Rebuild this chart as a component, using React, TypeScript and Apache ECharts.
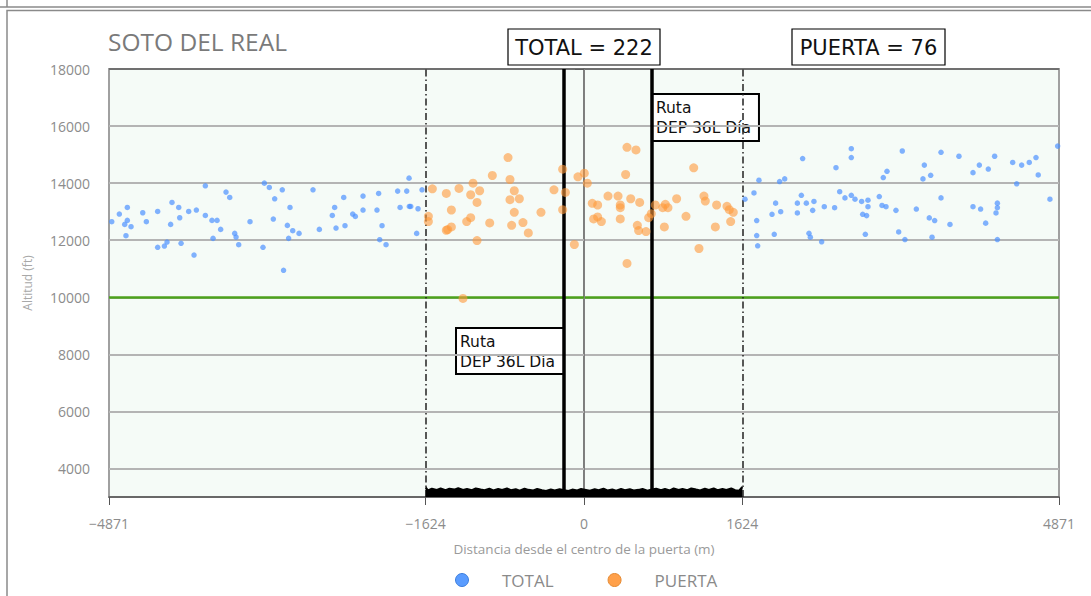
import React, { useEffect, useRef } from "react";
import * as echarts from "echarts";

const chartTitle = "SOTO DEL REAL";
const xTicks = [-4871, -1624, 0, 1624, 4871];
const yTicks = [4000, 6000, 8000, 10000, 12000, 14000, 16000, 18000];
const xRange = [-4871, 4871];
const yRange = [3000, 18000];
const gateEdges = [-1624, 1624];
const centerLine = [0];
const routeLines = [-205, 697];
const minAltitude = [10000];
const totalCount = 222;
const gateCount = 76;
const seriesNames = ["TOTAL", "PUERTA"];

const totalPoints: [number, number][] = [
  [-4843, 12647], [-4765, 12916], [-4683, 13149], [-4683, 12694], [-4710, 12554],
  [-4645, 12473], [-4697, 12158], [-4525, 12962], [-4488, 12647], [-4372, 13009],
  [-4372, 11750], [-4303, 11796], [-4276, 11936], [-4225, 13324], [-4156, 13149],
  [-4146, 12787], [-4239, 12554], [-4132, 11890], [-4054, 13009], [-3975, 13056],
  [-3999, 11481], [-3883, 13907], [-3883, 12869], [-3815, 12694], [-3763, 12694],
  [-3804, 12064], [-3726, 12379], [-3671, 13685], [-3633, 13499], [-3582, 12239],
  [-3568, 12111], [-3541, 11843], [-3425, 12647], [-3292, 11750], [-3278, 14000],
  [-3227, 13848], [-3172, 13452], [-3186, 12741], [-3094, 13767], [-3081, 10945],
  [-3042, 12519], [-3015, 13149], [-3029, 12064], [-2987, 12333], [-2922, 12239],
  [-2779, 13767], [-2714, 12379], [-2581, 12869], [-2557, 13149], [-2543, 12426],
  [-2464, 13499], [-2451, 12508], [-2372, 12916], [-2345, 12834], [-2266, 13545],
  [-2266, 13056], [-2123, 13056], [-2106, 13639], [-2071, 12508], [-2095, 12018],
  [-2030, 11843], [-1911, 13720], [-1818, 13720], [-1794, 14175], [-1886, 13149],
  [-1791, 13184], [-1777, 13184], [-1702, 13102], [-1716, 12239], [-1661, 13767],
  [1651, 13437], [1743, 13655], [1794, 14103], [1771, 12690], [1771, 12162],
  [1781, 11805], [1928, 12908], [1965, 13299], [2017, 13000], [1951, 12208],
  [2006, 14057], [2058, 14149], [2242, 14862], [2188, 13299], [2188, 12954],
  [2229, 13575], [2280, 13299], [2358, 13357], [2345, 13046], [2307, 12242],
  [2321, 12104], [2437, 11943], [2464, 13173], [2570, 13138], [2584, 14540],
  [2622, 13701], [2676, 13483], [2741, 15206], [2741, 14896], [2741, 13575],
  [2779, 13437], [2847, 13357], [2912, 13402], [2912, 13173], [2858, 12908],
  [2898, 12862], [2885, 12208], [3028, 13529], [3056, 13219], [3097, 13173],
  [3069, 14195], [3107, 14414], [3199, 13046], [3227, 12288], [3291, 12024],
  [3264, 15126], [3408, 13092], [3476, 14149], [3490, 14632], [3555, 14276],
  [3541, 12782], [3596, 12690], [3569, 12104], [3661, 13483], [3661, 15080],
  [3753, 12552], [3845, 14942], [3989, 14368], [3989, 13173], [4054, 14632],
  [4067, 13092], [4119, 12598], [4146, 14494], [4211, 14942], [4239, 13299],
  [4239, 13138], [4225, 12954], [4239, 12024], [4396, 14724], [4437, 13977],
  [4488, 14632], [4566, 14724], [4635, 14896], [4658, 14287], [4778, 13437],
  [4857, 15298],
];

const gatePoints: [number, number][] = [
  [-1555, 13802], [-1596, 12837], [-1596, 12651], [-1412, 13639], [-1360, 13058],
  [-1412, 12349], [-1398, 12372], [-1360, 12465], [-1282, 13814], [-1203, 12651],
  [-1162, 12790], [-1162, 13593], [-1138, 14000], [-1097, 13325], [-1070, 13733],
  [-1097, 11988], [-967, 12604], [-940, 14267], [-779, 14896], [-759, 14128],
  [-715, 13733], [-759, 13419], [-663, 13453], [-715, 12977], [-742, 12523],
  [-626, 12616], [-571, 12256], [-441, 12977], [-308, 13767], [-219, 14488],
  [-191, 13674], [-219, 13070], [-99, 11849], [-62, 14221], [3, 14349],
  [34, 14000], [85, 13291], [140, 13233], [99, 12744], [140, 12814],
  [178, 12651], [246, 13547], [349, 13547], [372, 13233], [372, 13139],
  [372, 12744], [441, 15256], [533, 15163], [427, 14302], [479, 13453],
  [571, 13325], [547, 12523], [560, 12337], [636, 12302], [441, 11186],
  [663, 12790], [690, 12930], [731, 13233], [807, 13139], [834, 13256],
  [861, 13139], [824, 12465], [950, 13453], [1046, 12837], [1125, 14535],
  [1230, 13547], [1244, 13372], [1179, 11709], [1360, 13233], [1347, 12465],
  [1466, 13186], [1490, 13070], [1531, 12977], [1504, 12651], [-1241, 9960],
];

const groundX = [
  -1624, -1600, -1560, -1510, -1470, -1420, -1380, -1330, -1290, -1240,
  -1200, -1150, -1110, -1060, -1020, -970, -930, -880, -840, -790,
  -750, -700, -660, -610, -570, -520, -480, -430, -390, -340,
  -300, -250, -205, -160, -120, -70, -30, 20, 60, 110,
  150, 200, 240, 290, 330, 380, 420, 470, 510, 560,
  600, 650, 697, 740, 790, 830, 880, 920, 970, 1010,
  1060, 1100, 1150, 1190, 1240, 1280, 1330, 1370, 1420, 1460,
  1510, 1550, 1590, 1624,
];
const groundY = [
  3340, 3230, 3290, 3250, 3300, 3240, 3290, 3260, 3310, 3250,
  3280, 3240, 3300, 3260, 3240, 3290, 3230, 3280, 3250, 3300,
  3240, 3270, 3220, 3290, 3250, 3230, 3280, 3240, 3210, 3260,
  3230, 3270, 3240, 3210, 3260, 3230, 3280, 3250, 3220, 3270,
  3240, 3290, 3230, 3260, 3220, 3280, 3240, 3270, 3230, 3250,
  3280, 3220, 3260, 3290, 3240, 3280, 3230, 3300, 3250, 3280,
  3240, 3300, 3260, 3230, 3290, 3250, 3300, 3240, 3280, 3250,
  3300, 3240, 3220, 3350,
];

const axisGray = "#8c8c8c";
const fontUI = "'Open Sans', 'Noto Sans', sans-serif";
const fontBox = "'DejaVu Sans', sans-serif";

function fmtX(v: number): string {
  return v < 0 ? "\u2212" + Math.abs(v) : String(v);
}

export default function App() {
  const ref = useRef<HTMLDivElement>(null);
  useEffect(() => {
    if (!ref.current) return;
    const chart = echarts.init(ref.current, undefined, { renderer: "svg" });
    const option: any = {
      animation: false,
      backgroundColor: "#ffffff",
      title: {
        text: chartTitle,
        left: 108,
        top: 29,
        padding: 0,
        textStyle: { fontFamily: fontUI, fontSize: 24.5, fontWeight: "normal", color: "#7a7a7a" },
      },
      grid: {
        left: 109,
        right: 32,
        top: 69,
        bottom: 99,
        show: true,
        backgroundColor: "#f5fbf7",
        borderColor: "#a0a0a0",
        borderWidth: 2,
      },
      legend: {
        left: 455,
        top: 570,
        itemWidth: 62,
        itemHeight: 13,
        itemGap: 54,
        icon: "circle",
        padding: 0,
        textStyle: { fontFamily: fontUI, fontSize: 17, color: "#8a8a8a", lineHeight: 20, padding: [0, 0, 0, 4] },
        data: [
          { name: seriesNames[0], itemStyle: { color: "#5a9cff", borderColor: "#3f7fdc", borderWidth: 1, opacity: 1 } },
          { name: seriesNames[1], itemStyle: { color: "#ffa04a", borderColor: "#e58a33", borderWidth: 1, opacity: 1 } },
        ],
      },
      xAxis: {
        type: "value",
        min: xRange[0],
        max: xRange[1],
        name: "Distancia desde el centro de la puerta (m)",
        nameLocation: "middle",
        nameGap: 45,
        nameTextStyle: { fontFamily: fontUI, fontSize: 13.5, color: "#9a9a9a" },
        axisLine: { show: true, onZero: false, lineStyle: { color: "#555", width: 1.5 } },
        axisTick: { show: true, customValues: xTicks, length: 8, lineStyle: { color: "#555" } },
        axisLabel: {
          customValues: xTicks,
          formatter: (v: number) => fmtX(v),
          margin: 19,
          fontFamily: fontUI,
          fontSize: 14,
          color: axisGray,
        },
        splitLine: { show: false },
      },
      yAxis: {
        type: "value",
        min: yRange[0],
        max: yRange[1],
        name: "Altitud (ft)",
        nameLocation: "middle",
        nameGap: 76,
        nameTextStyle: { fontFamily: fontUI, fontSize: 12, color: "#a8a8a8" },
        axisLine: { show: true, lineStyle: { color: "#555", width: 1.5 } },
        axisTick: { show: true, customValues: yTicks, length: 9, lineStyle: { color: "#555" } },
        axisLabel: {
          customValues: yTicks,
          formatter: (v: number) => String(v),
          margin: 19,
          fontFamily: fontUI,
          fontSize: 14,
          color: axisGray,
        },
        splitLine: { show: false },
      },
      series: [
        {
          name: "grid-lines",
          type: "line",
          data: [],
          silent: true,
          markLine: {
            z: 1,
            silent: true,
            symbol: "none",
            label: { show: false },
            lineStyle: { color: "#b4b4b4", width: 2, type: "solid" },
            data: yTicks.map((v) => ({ yAxis: v, lineStyle: v === yRange[1] ? { color: "#606060", width: 1.5 } : undefined })),
          },
        },
        {
          name: "ref-lines",
          type: "line",
          data: [],
          silent: true,
          markLine: {
            z: 2,
            silent: true,
            symbol: "none",
            label: { show: false },
            data: [
              ...minAltitude.map((v) => ({ yAxis: v, lineStyle: { color: "#4ca21c", width: 2.5, type: "solid" } })),
              ...centerLine.map((v) => ({ xAxis: v, lineStyle: { color: "#808080", width: 1, type: "solid" } })),
              ...gateEdges.map((v) => ({ xAxis: v, lineStyle: { color: "#222", width: 1.5, type: [7, 3, 1.5, 3] } })),
              ...routeLines.map((v) => ({ xAxis: v, lineStyle: { color: "#000", width: 3.5, type: "solid" } })),
            ],
          },
        },
        {
          name: seriesNames[0],
          type: "scatter",
          z: 3,
          symbolSize: 5.5,
          itemStyle: { color: "#4d92ff", opacity: 0.7 },
          data: totalPoints,
        },
        {
          name: seriesNames[1],
          type: "scatter",
          z: 3,
          symbolSize: 9,
          itemStyle: { color: "#ff9a3a", opacity: 0.6 },
          data: gatePoints,
        },
        {
          name: "ground",
          type: "line",
          z: 4,
          silent: true,
          showSymbol: false,
          symbol: "none",
          lineStyle: { color: "#000", width: 2 },
          areaStyle: { color: "#000", opacity: 1, origin: "start" },
          data: groundX.map((x, i) => [x, groundY[i]]),
        },
      ],
    };
    chart.setOption(option);

    const px = (x: number) => (chart.convertToPixel({ gridIndex: 0 }, [x, yRange[0]]) as number[])[0];
    const rRight = px(routeLines[1]);
    const rLeft = px(routeLines[0]);
    const center = px(centerLine[0]);

    const labelBox = (left: number, top: number, w: number, h: number, lines: string[], size: number, lw: number, textLeft: number | null) => {
      const children: any[] = [
        {
          type: "rect",
          shape: { x: left, y: top, width: w, height: h },
          style: { fill: "#ffffff", stroke: "#000", lineWidth: lw },
        },
      ];
      const multi = lines.length > 1;
      lines.forEach((t, i) => {
        children.push({
          type: "text",
          x: textLeft === null ? left + w / 2 : textLeft,
          y: multi ? top + 14 + i * 20 : top + h / 2 + 1,
          style: {
            text: t,
            font: `${size}px ${fontBox}`,
            fill: "#111",
            align: textLeft === null ? "center" : "left",
            textAlign: textLeft === null ? "center" : "left",
            verticalAlign: "middle",
            textVerticalAlign: "middle",
          },
        });
      });
      return { type: "group", z: 10, children };
    };

    chart.setOption({
      graphic: [
        { type: "line", z: 0, shape: { x1: 0, y1: 7, x2: 1091, y2: 7 }, style: { stroke: "#8a8a8a", lineWidth: 1.5 } },
        { type: "line", z: 0, shape: { x1: 7, y1: 0, x2: 7, y2: 7 }, style: { stroke: "#8a8a8a", lineWidth: 1.5 } },
        { type: "rect", z: 0, shape: { x: 7, y: 10.5, width: 1200, height: 700 }, style: { fill: "none", stroke: "#8a8a8a", lineWidth: 1.5 } },
        labelBox(center - 76, 29, 152, 36, [`TOTAL = ${totalCount}`], 21, 1.2, null),
        labelBox(792, 29, 153, 36, [`PUERTA = ${gateCount}`], 21, 1.2, null),
        labelBox(rRight, 94, 107, 47, ["Ruta", "DEP 36L D\u00eda"], 15.5, 2, rRight + 4),
        labelBox(rLeft - 108, 328, 108, 46, ["Ruta", "DEP 36L D\u00eda"], 15.5, 2, rLeft - 104),
      ],
    });

    return () => chart.dispose();
  }, []);
  return (
    <div
      ref={ref}
      style={{ position: "fixed", left: 0, top: 0, width: 1091, height: 596 }}
    />
  );
}
